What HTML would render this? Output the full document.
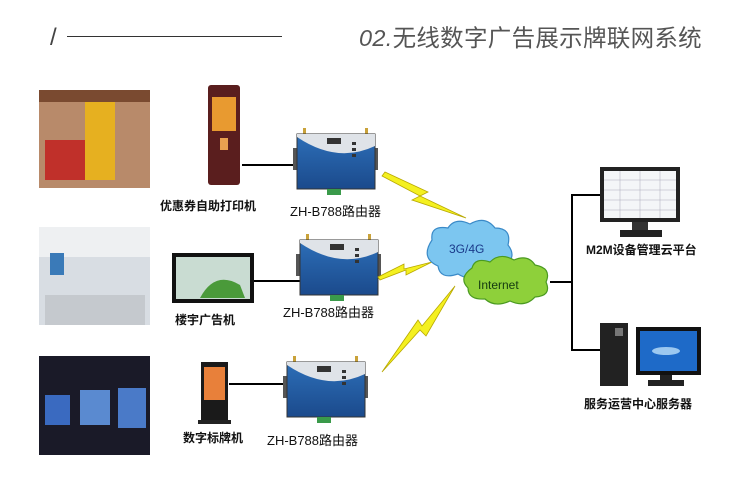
<!DOCTYPE html>
<html><head><meta charset="utf-8"><style>
body{margin:0;width:750px;height:478px;background:#fff;position:relative;overflow:hidden;font-family:"Liberation Sans","Noto Sans CJK SC",sans-serif}
.a{position:absolute}
.lb{position:absolute;font-size:12px;font-weight:bold;color:#111;white-space:nowrap}
.rl{position:absolute;font-size:13px;color:#111;white-space:nowrap}
</style></head><body>
<div class="a" style="left:50px;top:24px;font-size:24px;color:#444;font-weight:300">/</div>
<div class="a" style="left:67px;top:36px;width:215px;height:1px;background:#333"></div>
<div class="a" style="left:359px;top:19px;font-size:23.5px;color:#555;letter-spacing:0.3px"><i>02.</i>无线数字广告展示牌联网系统</div>

<svg class="a" style="left:0;top:0" width="750" height="478">
<defs>
<linearGradient id="rt" x1="0" y1="0" x2="0" y2="1"><stop offset="0" stop-color="#2d6fb8"/><stop offset="1" stop-color="#1b4a8c"/></linearGradient>
<g id="router">
<rect x="6" y="-6" width="3" height="8" fill="#c9a23a"/><rect x="68" y="-6" width="3" height="8" fill="#c9a23a"/>
<rect x="-4" y="14" width="6" height="22" fill="#555"/><rect x="75" y="14" width="6" height="22" fill="#555"/>
<rect x="0" y="0" width="78" height="55" fill="url(#rt)" stroke="#333"/>
<path d="M0 3 Q40 30 78 12 L78 0 L0 0Z" fill="#dfe3e8"/>
<rect x="30" y="4" width="14" height="6" fill="#333"/>
<rect x="55" y="8" width="4" height="3" fill="#333"/><rect x="55" y="14" width="4" height="3" fill="#333"/><rect x="55" y="20" width="4" height="3" fill="#333"/>
<rect x="30" y="55" width="14" height="6" fill="#3a9a4a"/>
</g>
</defs>
<rect x="39" y="90" width="111" height="98" fill="#b88a6a"/><rect x="85" y="95" width="30" height="85" fill="#e6b020"/><rect x="45" y="140" width="40" height="40" fill="#c0302a"/><rect x="39" y="90" width="111" height="12" fill="#7a4a30"/>
<rect x="39" y="227" width="111" height="98" fill="#d8dde3"/><rect x="39" y="227" width="111" height="30" fill="#eef0f2"/><rect x="50" y="253" width="14" height="22" fill="#3a7ab8"/><rect x="45" y="295" width="100" height="30" fill="#c5c9ce"/>
<rect x="39" y="356" width="111" height="99" fill="#1a1a28"/><rect x="45" y="395" width="25" height="30" fill="#3a6ac0"/><rect x="80" y="390" width="30" height="35" fill="#5a8ad0"/><rect x="118" y="388" width="28" height="40" fill="#4a7ac8"/>
<rect x="208" y="85" width="32" height="100" rx="3" fill="#5a1e1e"/><rect x="212" y="97" width="24" height="34" fill="#e89a30"/><rect x="220" y="138" width="8" height="12" fill="#e8a050"/>
<rect x="172" y="253" width="82" height="50" fill="#111"/><rect x="176" y="257" width="74" height="42" fill="#c9dcd2"/><path d="M200 298 Q215 270 240 285 L245 298Z" fill="#4a9a3a"/>
<rect x="201" y="362" width="27" height="58" fill="#1a1a1a"/><rect x="204" y="367" width="21" height="33" fill="#e8803a"/><rect x="198" y="420" width="33" height="4" fill="#222"/>
<g stroke="#000" stroke-width="2" fill="none">
<line x1="242" y1="165" x2="296" y2="165"/><line x1="254" y1="281" x2="300" y2="281"/><line x1="229" y1="384" x2="287" y2="384"/>
<polyline points="550,282 572,282"/><polyline points="600,195 572,195 572,350 600,350"/>
</g>
<use href="#router" x="297" y="134"/><use href="#router" x="300" y="240"/><use href="#router" x="287" y="362"/>
<g fill="#f4f020" stroke="#b8a800" stroke-width="0.8">
<polygon points="385,172 428,192 420,196 466,218 412,200 420,196 382,176"/>
<polygon points="378,277 404,264 404,269 432,262 406,275 406,270 380,280"/>
<polygon points="382,372 418,320 422,326 455,286 426,336 420,330"/>
</g>
<g fill="#7cc6f0" stroke="#3a8ac8" stroke-width="1.2">
<path d="M432 240 Q430 225 448 228 Q455 217 470 224 Q485 215 495 228 Q512 228 508 245 Q518 258 503 266 Q498 278 482 273 Q470 282 458 274 Q440 280 438 266 Q420 258 432 240Z"/>
</g>
<g fill="#8ed03a" stroke="#4a9a20" stroke-width="1.2">
<path d="M472 268 Q475 257 490 262 Q500 252 514 260 Q528 254 535 265 Q552 268 546 282 Q552 296 535 297 Q525 308 510 301 Q495 308 485 299 Q468 300 468 288 Q458 278 472 268Z"/>
</g>
<text x="449" y="253" font-family="Liberation Sans" font-size="12" fill="#1a3a8a">3G/4G</text>
<text x="478" y="289" font-family="Liberation Sans" font-size="12" fill="#143a10">Internet</text>
<rect x="600" y="167" width="80" height="55" fill="#222"/><rect x="604" y="171" width="72" height="47" fill="#f4f6f8"/>
<g stroke="#aab" stroke-width="0.5"><line x1="604" y1="180" x2="676" y2="180"/><line x1="604" y1="190" x2="676" y2="190"/><line x1="604" y1="200" x2="676" y2="200"/><line x1="604" y1="210" x2="676" y2="210"/><line x1="620" y1="171" x2="620" y2="218"/><line x1="640" y1="171" x2="640" y2="218"/><line x1="660" y1="171" x2="660" y2="218"/></g>
<rect x="632" y="222" width="16" height="8" fill="#333"/><rect x="620" y="230" width="42" height="7" fill="#222"/>
<rect x="600" y="323" width="28" height="63" fill="#222"/><rect x="615" y="328" width="8" height="8" fill="#777"/>
<rect x="636" y="327" width="65" height="48" fill="#111"/><rect x="640" y="331" width="57" height="40" fill="#1e6ac8"/><ellipse cx="666" cy="351" rx="14" ry="4" fill="#9cc8f0"/>
<rect x="660" y="375" width="12" height="5" fill="#222"/><rect x="648" y="380" width="36" height="6" fill="#222"/>
</svg>
<div class="lb" style="left:160px;top:197px">优惠券自助打印机</div>
<div class="rl" style="left:290px;top:201px">ZH-B788路由器</div>
<div class="lb" style="left:175px;top:311px">楼宇广告机</div>
<div class="rl" style="left:283px;top:302px">ZH-B788路由器</div>
<div class="lb" style="left:183px;top:429px">数字标牌机</div>
<div class="rl" style="left:267px;top:430px">ZH-B788路由器</div>
<div class="lb" style="left:586px;top:241px">M2M设备管理云平台</div>
<div class="lb" style="left:584px;top:395px">服务运营中心服务器</div>
</body></html>
